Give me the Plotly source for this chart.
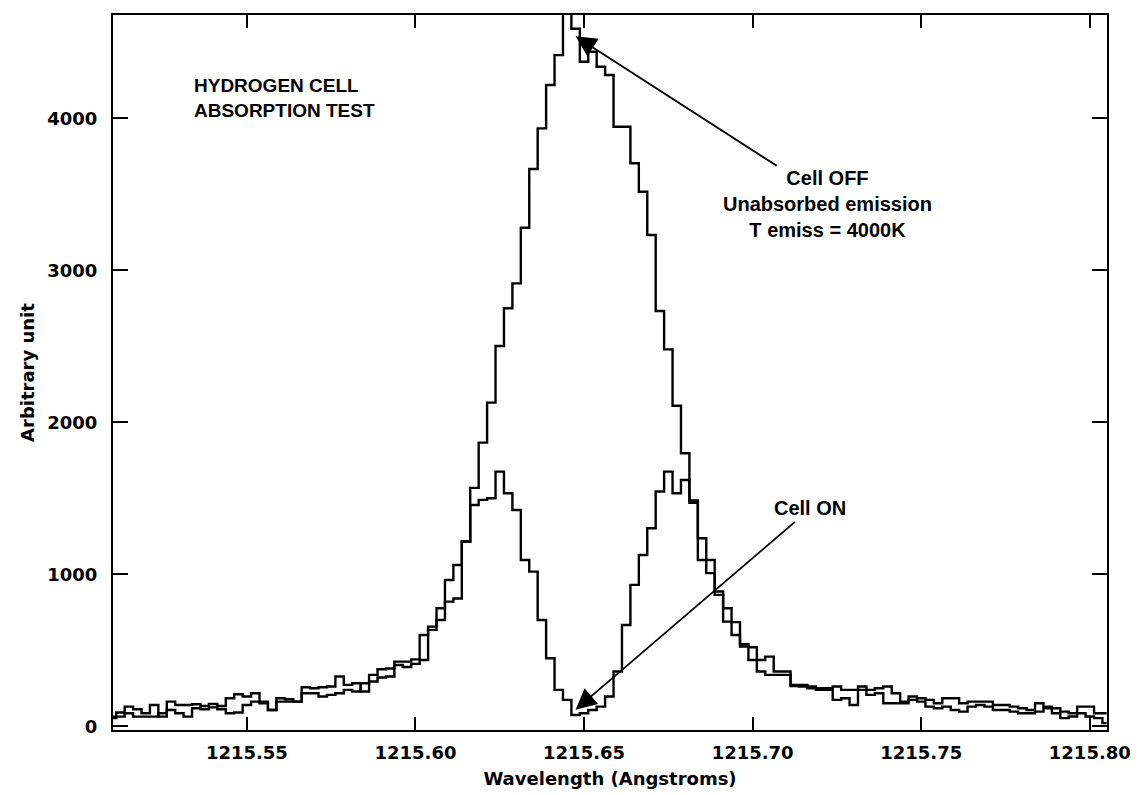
import numpy as np
import plotly.graph_objects as go

# ---- data ----
bin_start = 1215.51      # centre of first bin (Angstroms)
bin_width = 0.0025       # Angstroms

cell_off = [63, 90, 129, 112, 85, 140, 63, 162, 140, 140,
            144, 133, 146, 133, 184, 210, 195, 217, 162, 107,
            184, 177, 162, 256, 250, 256, 261, 327, 272, 283,
            228, 338, 375, 380, 425, 425, 440, 600, 655, 776,
            962, 1061, 1215, 1568, 1866, 2129, 2502, 2750, 2914, 3280,
            3667, 3934, 4219, 4416, 4760, 4590, 4372, 4438, 4339, 4285,
            3945, 3945, 3704, 3517, 3232, 2732, 2480, 2109, 1796, 1485,
            1237, 1094, 886, 776, 685, 540, 520, 436, 458, 360,
            360, 272, 272, 261, 250, 250, 261, 239, 239, 261,
            239, 250, 261, 217, 162, 195, 184, 173, 151, 184,
            184, 151, 162, 162, 162, 140, 140, 129, 118, 107,
            151, 129, 118, 96, 85, 129, 129, 85, 85]

cell_on = [53, 63, 85, 63, 63, 63, 85, 107, 85, 63,
           118, 112, 124, 112, 85, 90, 140, 162, 151, 107,
           162, 162, 162, 217, 217, 195, 206, 217, 239, 228,
           283, 294, 320, 327, 403, 390, 410, 436, 634, 699,
           820, 840, 1215, 1456, 1489, 1500, 1675, 1533, 1423, 1094,
           1017, 699, 447, 239, 173, 74, 85, 107, 129, 195,
           360, 666, 930, 1127, 1303, 1544, 1675, 1533, 1620, 1470,
           1094, 1007, 864, 688, 600, 524, 436, 360, 338, 338,
           338, 265, 261, 250, 239, 239, 173, 184, 140, 239,
           206, 217, 151, 151, 151, 173, 162, 129, 118, 129,
           107, 96, 129, 140, 129, 107, 107, 96, 85, 85,
           96, 118, 85, 53, 64, 85, 64, 53, 20]

wavelength = np.round(bin_start + bin_width * np.arange(len(cell_off)), 5)

x_ticks = [1215.55, 1215.60, 1215.65, 1215.70, 1215.75, 1215.80]
y_ticks = [0, 1000, 2000, 3000, 4000]

# ---- figure ----
fig = go.Figure()
line_style = dict(color="black", width=2.4, shape="hvh")
fig.add_trace(go.Scatter(x=wavelength, y=cell_off, mode="lines", line=line_style,
                         name="Cell OFF", hoverinfo="x+y"))
fig.add_trace(go.Scatter(x=wavelength, y=cell_on, mode="lines", line=line_style,
                         name="Cell ON", hoverinfo="x+y"))

tick_font = dict(family="DejaVu Sans", size=18, color="black", weight="bold")
title_font = dict(family="DejaVu Sans", size=18, color="black", weight="bold")
note_font = dict(family="Liberation Sans, Arial", size=20, color="black", weight="bold")

axis_common = dict(showline=True, linecolor="black", linewidth=2, mirror="ticks",
                   ticks="inside", tickcolor="black", tickwidth=2,
                   showgrid=False, zeroline=False, tickfont=tick_font)

fig.update_xaxes(range=[1215.5103, 1215.8051], tickvals=x_ticks,
                 ticktext=[f"{v:.2f}" for v in x_ticks], ticklen=13,
                 ticklabelstandoff=5,
                 title=dict(text="Wavelength (Angstroms)", font=title_font, standoff=11),
                 **axis_common)
fig.update_yaxes(range=[-25, 4680], tickvals=y_ticks,
                 ticktext=[str(v) for v in y_ticks], ticklen=15,
                 ticklabelstandoff=10,
                 title=dict(text="Arbitrary unit", font=title_font, standoff=8),
                 **axis_common)

# bin of deepest absorption (between the two Cell ON peaks)
lo, hi = 40, 70
i_min = lo + int(np.argmin(cell_on[lo:hi]))
tip_x = float(wavelength[i_min])

annotations = [
    dict(x=1215.5337, y=4297, xref="x", yref="y", xanchor="left", yanchor="top",
         align="left", showarrow=False, text="HYDROGEN CELL<br>ABSORPTION TEST",
         font=dict(family="Liberation Sans, Arial", size=19, color="black", weight="bold")),
    dict(x=1215.7223, y=3690, xref="x", yref="y", xanchor="center", yanchor="top",
         align="center", showarrow=False,
         text="Cell OFF<br>Unabsorbed emission<br>T emiss = 4000K", font=note_font),
    dict(x=1215.7170, y=1350, xref="x", yref="y", xanchor="center", yanchor="bottom",
         showarrow=False, text="Cell ON", font=note_font),
    # arrows
    dict(x=tip_x, y=cell_off[i_min] - 50, xref="x", yref="y",
         ax=1215.7076, ay=3681, axref="x", ayref="y", text="", showarrow=True,
         arrowhead=2, arrowsize=2.3, arrowwidth=1.8, arrowcolor="black", standoff=0),
    dict(x=tip_x, y=cell_on[i_min] + 35, xref="x", yref="y",
         ax=1215.7130, ay=1353, axref="x", ayref="y", text="", showarrow=True,
         arrowhead=2, arrowsize=2.3, arrowwidth=1.8, arrowcolor="black", standoff=0),
]

fig.update_layout(width=1138, height=795,
                  margin=dict(l=113, r=31, t=15, b=65, autoexpand=False),
                  paper_bgcolor="white", plot_bgcolor="white",
                  showlegend=False, annotations=annotations)

fig.write_html("out.html")
